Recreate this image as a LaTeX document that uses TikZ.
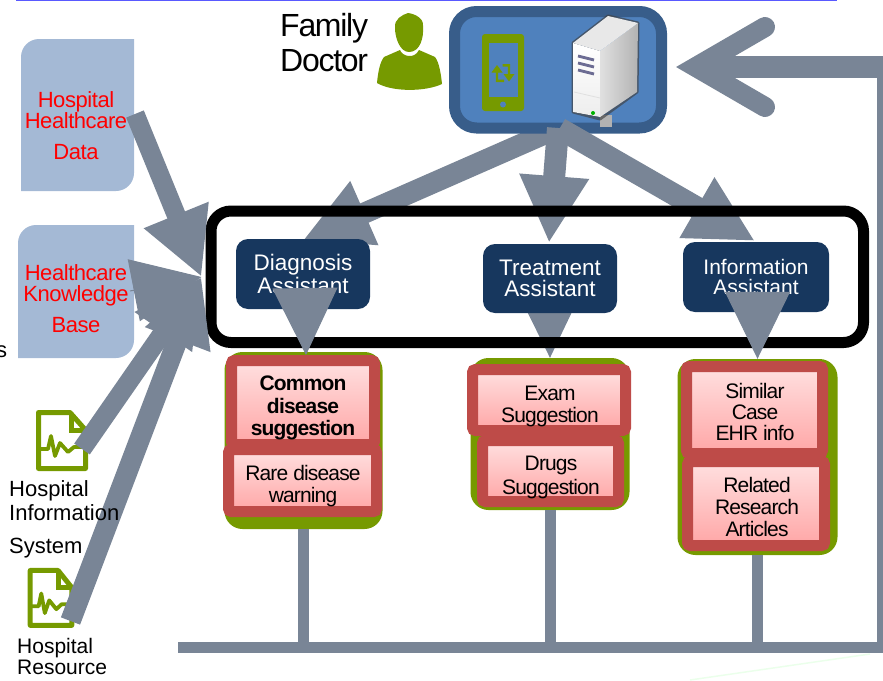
\documentclass[tikz,border=0pt]{standalone}
\usepackage{fontspec}
\setmainfont{Liberation Sans}
\newfontfamily\tightfont[LetterSpace=-4]{Liberation Sans}
\newfontfamily\slimfont[LetterSpace=-2]{Liberation Sans}
\usetikzlibrary{arrows.meta,calc}
\definecolor{flowgray}{HTML}{798596}
\definecolor{redline}{HTML}{BE4B48}
\definecolor{redtop}{HTML}{FFE0E0}
\definecolor{redbot}{HTML}{FFA6A6}
\definecolor{leaf}{HTML}{769A00}
\definecolor{paleblue}{HTML}{A4B9D5}
\definecolor{navy}{HTML}{17375E}
\definecolor{docline}{HTML}{385D8A}
\definecolor{docfill}{HTML}{4F81BD}
\tikzset{
  flow/.style={draw=flowgray,line width=#1,-{Triangle[length=67pt,width=65pt,color=flowgray]}},
  bar/.style={draw=flowgray,line width=11pt},
  leafbox/.style={fill=leaf,rounded corners=18pt,inner sep=0pt},
  redbox/.style={draw=redline,line width=11pt,rounded corners=3pt,top color=redtop,bottom color=redbot,inner sep=0pt},
  assistant/.style={fill=navy,text=white,rounded corners=12pt,inner sep=0pt,minimum width=134pt,minimum height=70pt,align=center,font=\fontsize{22.5}{21}\selectfont},
  lbl/.style={align=center,inner sep=0pt,text=black,font=\tightfont\fontsize{21}{22}\selectfont},
  redlbl/.style={align=center,inner sep=0pt,text=red,font=\slimfont\fontsize{22}{21}\selectfont},
  blacklbl/.style={align=left,inner sep=0pt,text=black,font=\fontsize{22}{24}\selectfont},
  docicon/.pic={
    \draw[leaf,line width=5pt,line join=round] (2.5,2.5) -- (34,2.5) -- (49.5,20) -- (49.5,58.5) -- (2.5,58.5) -- cycle;
    \draw[leaf,line width=5pt] (35,2.5) -- (35,20) -- (49.5,20);
    \draw[leaf,line width=3.8pt,line join=round] (2.5,39) -- (12,39) -- (15,26) -- (19,46) -- (24,33) -- (32,42) -- (38,37) -- (49.5,37);
  }
}
\begin{document}
\begin{tikzpicture}[x=1pt,y=-1pt]
\useasboundingbox (0,0) rectangle (883,680);
% top rule and faint line
\draw[color=blue!65,line width=1.2pt] (16,0.4) -- (837,0.4);
\draw[color=green!8,line width=1.5pt] (870,654) -- (690,680);
% data sources
\fill[paleblue] (134,39) -- (134,100) [rounded corners=18pt] -- (134,191) -- (60,191) [sharp corners] -- (21,191) -- (21,100) [rounded corners=18pt] -- (21,39) -- (60,39) [sharp corners] -- cycle;
\fill[paleblue] (134,225) -- (134,290) [rounded corners=18pt] -- (134,358) -- (60,358) [sharp corners] -- (18,358) -- (18,290) [rounded corners=18pt] -- (18,225) -- (60,225) [sharp corners] -- cycle;
\pic at (36,410) {docicon};
\pic[xscale=.885,yscale=.98] at (28,568) {docicon};
% green groups
\node[leafbox,minimum width=158pt,minimum height=177pt] (gcommon) at (303.5,440.5) {};
\node[leafbox,minimum width=159pt,minimum height=152pt] (gtreat) at (550,434) {};
\node[leafbox,minimum width=160pt,minimum height=196pt] (ginfo) at (757.5,457) {};
% suggestion boxes
\node[redbox,minimum width=143pt,minimum height=84pt] (rcommon) at (303,402.5) {};
\node[redbox,minimum width=148pt,minimum height=62pt] (rrare) at (302.5,480.5) {};
\node[redbox,minimum width=136pt,minimum height=61pt] (rdrugs) at (550.5,471) {};
\node[redbox,minimum width=153pt,minimum height=61pt] (rexam) at (549,400) {};
\node[redbox,minimum width=136pt,minimum height=87pt] (rsimilar) at (754.5,410) {};
\node[redbox,minimum width=137pt,minimum height=84pt] (rrelated) at (756,503.5) {};
% bus
\coordinate (busL) at (178,647.5);
\coordinate (busR) at (882.5,647.5);
\coordinate (ret) at (882.5,67);
\coordinate (retHead) at (696,67);
\draw[bar] (busL) -- (busR) -- (ret);
\draw[bar] (gcommon.south) -- (gcommon.south |- busL);
\draw[bar] (gtreat.south) -- (gtreat.south |- busL);
\draw[bar] (ginfo.south) -- (ginfo.south |- busL);
\draw[flowgray,line width=22pt] (883,67) -- (retHead);
\coordinate (barbA) at (765,27);
\coordinate (barbB) at (765,107);
\draw[flowgray,line width=20pt,line cap=round,line join=miter,miter limit=10] (barbA) -- (retHead) -- (barbB);
% assistants' positions needed by arrows
\coordinate (diagTop) at (303,240);
\coordinate (treatTop) at (549,243);
\coordinate (infoTop) at (755,241);
\coordinate (sL) at (556,129);
\coordinate (sM) at (558,128);
\coordinate (sR) at (559.6,128.6);
% doctor system
\draw[flow=21pt] (sL) -- (diagTop);
\node[draw=docline,fill=docfill,line width=11pt,rounded corners=22pt,minimum width=207pt,minimum height=116.5pt,inner sep=0pt] (system) at (558,69.75) {};
% phone
\fill[leaf,rounded corners=3pt] (482,34) rectangle (524,111);
\fill[docfill] (488.5,43) rectangle (518,97);
\fill[docfill] (503,104.5) circle (3);
\fill[leaf] (497,65) -- (502.5,72.5) -- (498.2,72.5) -- (498.2,79.5) -- (504,79.5) -- (504,82) -- (495.8,82) -- (495.8,72.5) -- (491.5,72.5) -- cycle;
\fill[leaf] (509,81.5) -- (514.5,74) -- (510.2,74) -- (510.2,64) -- (502.5,64) -- (502.5,66.5) -- (507.8,66.5) -- (507.8,74) -- (503.5,74) -- cycle;
% server
\fill[gray!60] (600,115) rectangle (612,127);
\draw[black!75,line width=3pt,line join=round,opacity=.65] (573,43) -- (608,16) -- (638,23) -- (637,92) -- (600,119) -- (573,112) -- cycle;
\fill[top color=white,bottom color=black!7] (573,43) -- (600,51) -- (600,117) -- (573,112) -- cycle;
\shade[left color=black!12,right color=black!30] (600,51) -- (638,23) -- (637,92) -- (600,117) -- cycle;
\fill[black!9] (573,43) -- (608,16) -- (638,23) -- (600,51) -- cycle;
\draw[blue!15!gray,line width=2.8pt] (578,56) -- (594,60) (578,63) -- (594,67) (578,70) -- (594,74);
\draw[black!12,line width=.8pt] (574,92) -- (600,98);
\fill[green!70!black] (593,113) circle (2);
\draw[flow=22pt] (sM) -- (treatTop);
\draw[flow=22pt] (sR) -- (infoTop);
% doctor
\fill[leaf] (408,13) .. controls (416,14) and (424,19) .. (423,26) .. controls (424,38) and (420,52) .. (409,52) .. controls (400,52) and (395,38) .. (395,28) .. controls (394,19) and (402,15) .. (408,13) -- cycle;
\fill[leaf] (400,50) .. controls (402,56) and (414,60) .. (419,50) -- (435,57) .. controls (439,62) and (441,74) .. (442,84) .. controls (425,92) and (392,92) .. (377,83) .. controls (378,72) and (380,62) .. (384,57) -- cycle;
\node[align=left,inner sep=0pt,font=\tightfont\fontsize{32}{35}\selectfont,anchor=north west] (famdoc) at (280,13) {Family\\Doctor};
% treatment arrow lies under the frame and its box
\draw[flow=1pt] (549.5,279) -- (gtreat.north);
% frame
\node[draw=black,line width=11pt,rounded corners=20pt,minimum width=652.5pt,minimum height=131.5pt,inner sep=0pt] (frame) at (537.25,276.75) {};
\node[assistant] (diag) at (303,274) {Diagnosis\\[2.5pt]Assistant};
\node[assistant,minimum height=69pt] (treat) at (550,278.5) {Treatment\\Assistant};
\node[assistant,minimum width=146pt,font=\fontsize{21}{20.5}\selectfont] (info) at (756,277) {Information\\Assistant};
% down arrows over the boxes
\coordinate (dbase) at (305,289);
\coordinate (ibase) at (757.5,291);
\coordinate (dtip) at (306,355);
\draw[flow=1pt] (dbase) -- (dtip);
\draw[flow=1pt] (ibase) -- (ginfo.north);
% inputs
\coordinate (inTip) at (201.5,277);
\coordinate (hdStart) at (135,114);
\coordinate (kbStart) at (130,291);
\coordinate (hisStart) at (82,449);
\coordinate (hrStart) at (70.5,621);
\draw[flow=19pt] (hdStart) -- (inTip);
\draw[flow=19pt] (hisStart) -- (inTip);
\draw[flow=20.5pt] (hrStart) -- (inTip);
\draw[draw=flowgray,line width=1pt,-{Triangle[length=69pt,width=63pt,color=flowgray]}] (kbStart) -- (inTip);
% labels
\node[redlbl] (t1) at (76,126) {Hospital\\Healthcare\\[10pt]Data};
\node[redlbl] (t2) at (76,299) {Healthcare\\Knowledge\\[10pt]Base};
\node[inner sep=0pt,anchor=base west,font=\fontsize{22}{24}\selectfont] (ts) at (-15,357) {\phantom{x}s};
\node[blacklbl,anchor=north west] (t3) at (9,480) {Hospital\\Information\\[9pt]System};
\node[inner sep=0pt,align=left,anchor=north west,font=\fontsize{21}{21}\selectfont] (t4) at (17,638) {Hospital\\Resource};
\node[lbl,font=\bfseries\tightfont\fontsize{21}{22.5}\selectfont] (lc) at (303,408) {Common\\disease\\suggestion};
\node[lbl] (lr) at (303,486) {Rare disease\\warning};
\node[lbl] (le) at (550,406) {Exam\\Suggestion};
\node[lbl,font=\tightfont\fontsize{21}{24}\selectfont] (ld) at (551,477) {Drugs\\Suggestion};
\node[lbl,font=\tightfont\fontsize{21}{21}\selectfont] (ls) at (755,412) {Similar\\Case\\EHR info};
\node[lbl] (lrr) at (757,507) {Related\\Research\\Articles};
\end{tikzpicture}
\end{document}
